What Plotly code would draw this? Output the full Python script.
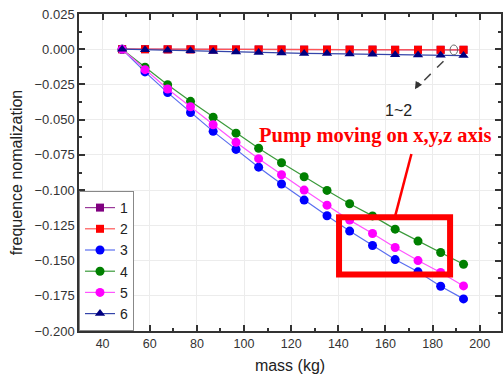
import plotly.graph_objects as go

mass = [48.3, 58.0, 67.6, 77.3, 86.9, 96.6, 106.2, 115.9, 125.5, 135.2,
        144.8, 154.5, 164.1, 173.8, 183.4, 193.1]

s1 = [0, 0, -0.0001, -0.0001, -0.0001, -0.0002, -0.0002, -0.0002, -0.0003, -0.0003,
      -0.0003, -0.0003, -0.0004, -0.0004, -0.0004, -0.0004]
s2 = [0, 0, -0.0001, -0.0001, -0.0001, -0.0002, -0.0002, -0.0002, -0.0003, -0.0003,
      -0.0003, -0.0003, -0.0004, -0.0004, -0.0004, -0.0004]
s3 = [0, -0.0161, -0.0308, -0.0449, -0.0583, -0.0711, -0.0837, -0.0957, -0.1071, -0.1182,
      -0.1291, -0.1393, -0.1493, -0.1580, -0.1682, -0.1772]
s4 = [0, -0.0128, -0.0252, -0.0370, -0.0482, -0.0596, -0.0703, -0.0806, -0.0905, -0.1002,
      -0.1097, -0.1183, -0.1277, -0.1362, -0.1443, -0.1526]
s5 = [0, -0.0145, -0.0282, -0.0408, -0.0536, -0.0660, -0.0777, -0.0891, -0.1000, -0.1107,
      -0.1213, -0.1308, -0.1407, -0.1500, -0.1585, -0.1680]
s6 = [0, -0.0004, -0.0008, -0.0011, -0.0017, -0.0020, -0.0024, -0.0027, -0.0030, -0.0031,
      -0.0034, -0.0036, -0.0039, -0.0041, -0.0043, -0.0045]

names = ["1", "2", "3", "4", "5", "6"]
series = [s1, s2, s3, s4, s5, s6]
line_colors = ["#9a3a9a", "#ff5555", "#5a6ef0", "#3a9a3a", "#ff55ff", "#3344aa"]
marker_colors = ["#800080", "#ff0000", "#0000ff", "#008000", "#ff00ff", "#000080"]
symbols = ["square", "square", "circle", "circle", "circle", "triangle-up"]
msizes = [8, 8, 9, 9, 9, 9]

fig = go.Figure()
for n, s, lc, mc, sym, ms in zip(names, series, line_colors, marker_colors, symbols, msizes):
    fig.add_trace(go.Scatter(
        x=mass, y=s, name=n, mode="lines+markers",
        line=dict(color=lc, width=1.2),
        marker=dict(color=mc, symbol=sym, size=ms),
    ))

fig.add_shape(type="rect", x0=140.3, x1=187.4, y0=-0.1599, y1=-0.1192,
              line=dict(color="#ff0000", width=6), fillcolor="rgba(0,0,0,0)")
fig.add_shape(type="line", x0=171.0, y0=-0.0744, x1=164.1, y1=-0.1185,
              line=dict(color="#ff0000", width=2.5))
fig.add_shape(type="circle", x0=187.4, x1=190.6, y0=-0.0040, y1=0.0030,
              line=dict(color="#666666", width=1))
fig.add_shape(type="line", x0=184.6, y0=-0.0085, x1=173.5, y1=-0.0270,
              line=dict(color="#444444", width=1.5, dash="dash"))

fig.add_annotation(x=172.5, y=-0.0284, ax=5, ay=-8, text="", showarrow=True,
                   arrowhead=2, arrowsize=1, arrowwidth=1.5, arrowcolor="#333333",
                   standoff=0)
fig.add_annotation(x=165.6, y=-0.0433, text="1~2", showarrow=False,
                   font=dict(family="Liberation Sans, Arial", size=16, color="#222222"))
fig.add_annotation(x=155.4, y=-0.0609, text="<b>Pump moving on x,y,z axis</b>",
                   showarrow=False, xanchor="center",
                   font=dict(family="Liberation Serif, Times New Roman", size=20.5, color="#ff0000"))

axis_common = dict(
    showline=True, linecolor="#333333", linewidth=1.5, mirror="allticks",
    ticks="inside", ticklen=6, tickcolor="#333333", tickwidth=1.5,
    showgrid=True, gridcolor="#ececec", gridwidth=1, zeroline=False,
)

fig.update_xaxes(
    range=[30, 209], tick0=40, dtick=20,
    minor=dict(ticks="inside", ticklen=3, dtick=10, tickcolor="#333333", showgrid=False),
    tickfont=dict(family="Liberation Sans, Arial", size=12.5, color="#333333"),
    title=dict(text="mass (kg)", font=dict(family="Liberation Sans, Arial", size=16, color="#222222"),
               standoff=10),
    **axis_common,
)
fig.update_yaxes(
    range=[-0.2, 0.025], tick0=0, dtick=0.025, tickformat=".3f",
    minor=dict(ticks="inside", ticklen=3, dtick=0.0125, tickcolor="#333333", showgrid=False),
    tickfont=dict(family="Liberation Sans, Arial", size=13, color="#333333"),
    title=dict(text="frequence nomalization", font=dict(family="Liberation Sans, Arial", size=16, color="#222222"),
               standoff=8),
    **axis_common,
)

fig.update_layout(
    width=503, height=384,
    margin=dict(l=79, r=0, t=14, b=53),
    plot_bgcolor="white", paper_bgcolor="white",
    showlegend=True,
    legend=dict(x=0, y=0, xanchor="left", yanchor="bottom",
                bgcolor="white", bordercolor="#888888", borderwidth=1,
                font=dict(family="Liberation Sans, Arial", size=14, color="#222222"),
                tracegroupgap=0, itemwidth=30),
)

fig.write_html("out.html")
